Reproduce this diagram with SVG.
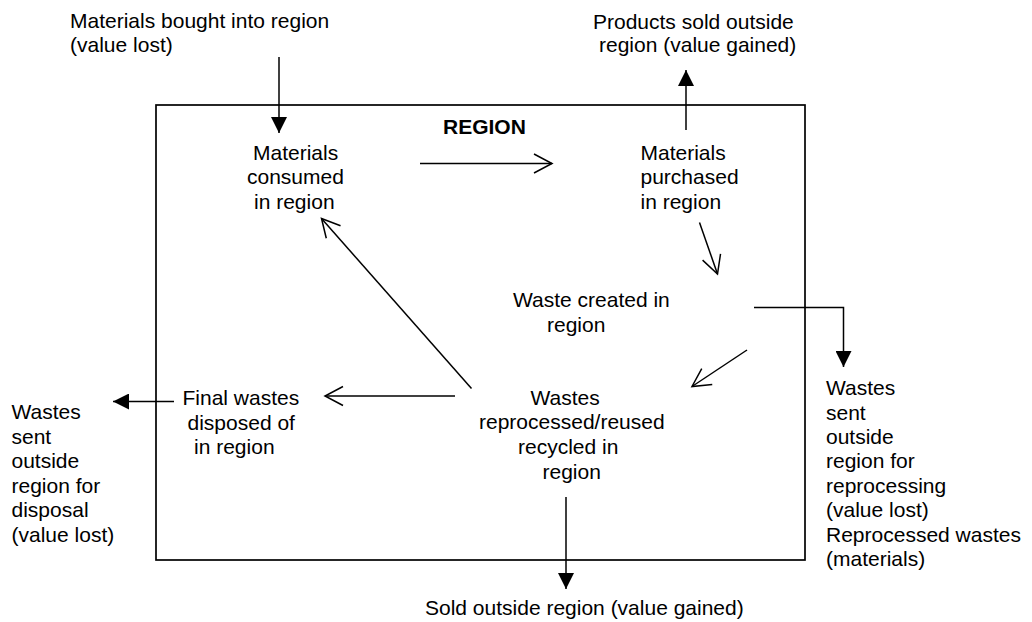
<svg xmlns="http://www.w3.org/2000/svg" width="1032" height="622" viewBox="0 0 1032 622">
<style>
text{font-family:"Liberation Sans",Arial,sans-serif;font-size:21px;fill:#000}
.b{font-weight:bold}
.ln{fill:none;stroke:#000;stroke-width:1.5}
.f{marker-end:url(#fill)}
.o{marker-end:url(#open)}
</style>
<defs>
<marker id="fill" viewBox="0 0 16 16" markerWidth="16" markerHeight="16" refX="16" refY="8" orient="auto" markerUnits="userSpaceOnUse"><path d="M0,0 L16,8 L0,16 z" fill="#000"/></marker>
<marker id="open" viewBox="0 0 22 22" markerWidth="22" markerHeight="22" refX="20" refY="11" orient="auto" markerUnits="userSpaceOnUse"><path d="M2,1.5 L20,11 L2,20.5" fill="none" stroke="#000" stroke-width="1.5"/></marker>
</defs>
<rect id="region" x="156" y="105" width="649" height="455" fill="none" stroke="#000" stroke-width="1.7"/>
<g id="connectors">
<line class="ln f" x1="279" y1="57" x2="279" y2="133"/>
<line class="ln f" x1="686" y1="130" x2="686" y2="70"/>
<line class="ln o" x1="420" y1="163.5" x2="552" y2="163.5"/>
<line class="ln o" x1="699.5" y1="222.5" x2="717.5" y2="274"/>
<polyline class="ln f" points="754,307.5 843.5,307.5 843.5,367"/>
<line class="ln o" x1="747" y1="350" x2="692" y2="386.5"/>
<line class="ln o" x1="471.5" y1="388.5" x2="321.5" y2="218.5"/>
<line class="ln o" x1="455" y1="396" x2="325" y2="396"/>
<line class="ln f" x1="174" y1="401.5" x2="113" y2="401.5"/>
<line class="ln f" x1="566" y1="497" x2="566" y2="589"/>
</g>
<g id="bought-in"><text x="70" y="28">Materials bought into region</text><text x="70" y="52">(value lost)</text></g>
<g id="products-sold"><text x="593" y="28.5">Products sold outside</text><text x="599" y="52">region (value gained)</text></g>
<g id="region-label"><text class="b" x="443" y="134">REGION</text></g>
<g id="consumed"><text x="253" y="160">Materials</text><text x="247" y="184">consumed</text><text x="254" y="208.5">in region</text></g>
<g id="purchased"><text x="640.5" y="160">Materials</text><text x="640.5" y="184">purchased</text><text x="640.5" y="208.5">in region</text></g>
<g id="waste-created"><text x="513" y="306.5">Waste created in</text><text x="547" y="331.5">region</text></g>
<g id="final-wastes"><text x="182.5" y="405">Final wastes</text><text x="187.5" y="429.5">disposed of</text><text x="194" y="453.5">in region</text></g>
<g id="reprocessed"><text x="530.5" y="405">Wastes</text><text x="479" y="428.5">reprocessed/reused</text><text x="518" y="453.5">recycled in</text><text x="542.5" y="478.5">region</text></g>
<g id="sent-disposal"><text x="11.5" y="419">Wastes</text><text x="11.5" y="443.5">sent</text><text x="11.5" y="468">outside</text><text x="11.5" y="492.5">region for</text><text x="11.5" y="517">disposal</text><text x="11.5" y="541.5">(value lost)</text></g>
<g id="sent-reprocessing"><text x="826" y="395">Wastes</text><text x="826" y="419.5">sent</text><text x="826" y="443.5">outside</text><text x="826" y="468">region for</text><text x="826" y="492.5">reprocessing</text><text x="826" y="517">(value lost)</text><text x="826" y="541.5">Reprocessed wastes</text><text x="826" y="566">(materials)</text></g>
<g id="sold-outside"><text x="425" y="614.5">Sold outside region (value gained)</text></g>
</svg>
